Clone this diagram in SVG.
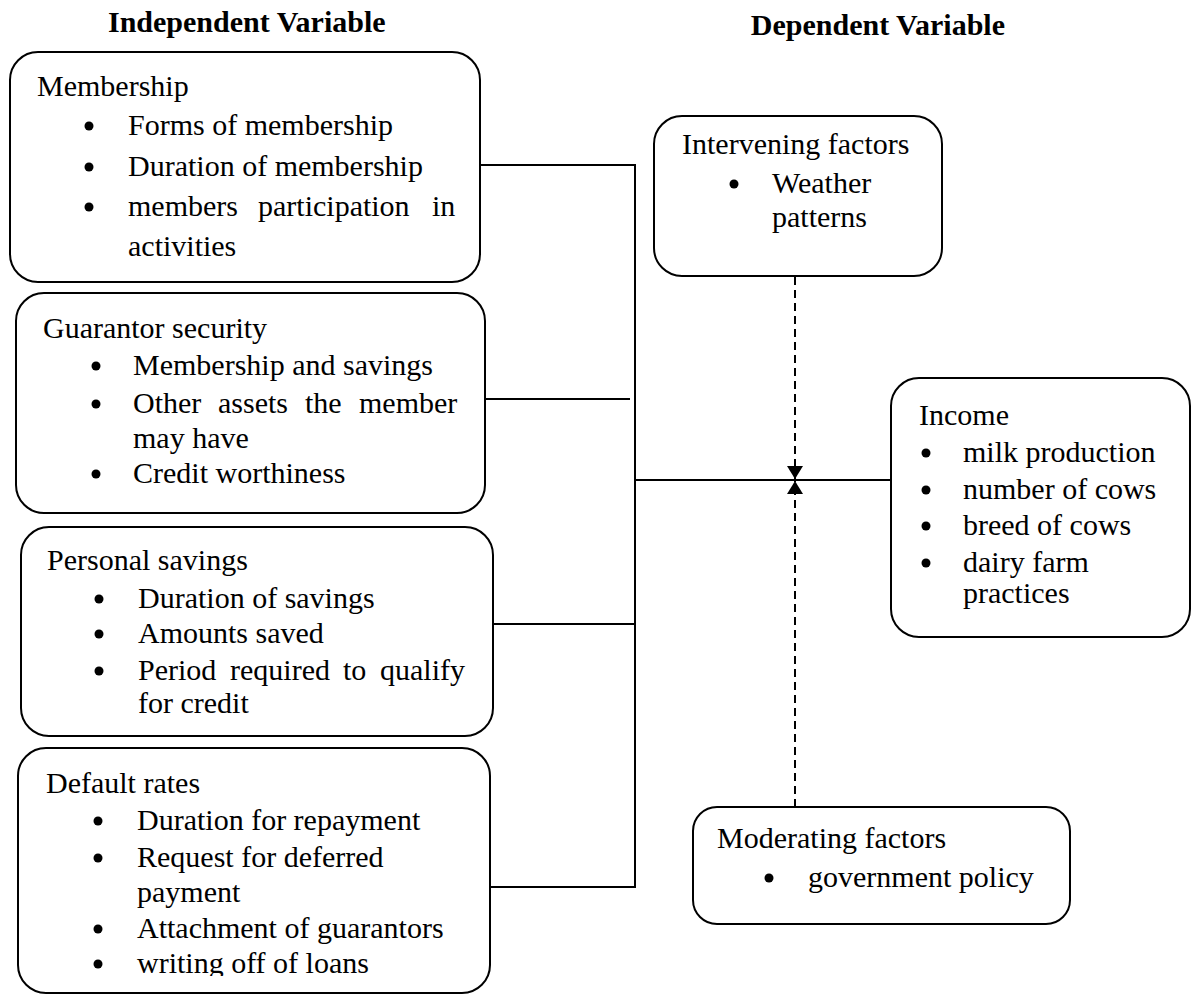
<svg xmlns="http://www.w3.org/2000/svg" width="1193" height="994" viewBox="0 0 1193 994">
<style>
.box{fill:#fff;stroke:#000;stroke-width:2}
.t{font-family:"Liberation Serif","Times New Roman",serif;font-size:30px;fill:#000}
.h{font-family:"Liberation Serif","Times New Roman",serif;font-size:30px;font-weight:bold;fill:#000}
.b{fill:#000}
.ln{stroke:#000;stroke-width:2;fill:none}
.dash{stroke:#000;stroke-width:2;fill:none;stroke-dasharray:8,5}
</style>
<defs>
<marker id="arr" viewBox="0 0 13 16" refX="13" refY="8" markerWidth="13" markerHeight="16" markerUnits="userSpaceOnUse" orient="auto"><path d="M0,0 L13,8 L0,16 Z" fill="#000"/></marker>
<clipPath id="clip4"><rect x="0" y="740" width="500" height="236"/></clipPath>
</defs>
<rect width="1193" height="994" fill="#fff"/>
<text class="h" x="108" y="32">Independent Variable</text>
<text class="h" x="1005" y="35" text-anchor="end">Dependent Variable</text>

<g id="connectors">
<line class="ln" x1="480" y1="165" x2="635" y2="165"/>
<line class="ln" x1="635" y1="164" x2="635" y2="888"/>
<line class="ln" x1="485" y1="399" x2="630" y2="399"/>
<line class="ln" x1="635" y1="480" x2="891" y2="480"/>
<line class="ln" x1="493" y1="624" x2="635" y2="624"/>
<line class="ln" x1="490" y1="887" x2="635" y2="887"/>
<line class="dash" x1="795" y1="277" x2="795" y2="479" marker-end="url(#arr)"/>
<line class="dash" x1="795" y1="807" x2="795" y2="481" marker-end="url(#arr)"/>
</g>

<g id="membership">
<rect class="box" x="10" y="52" width="470" height="230" rx="28"/>
<text class="t" x="37" y="96">Membership</text>
<circle class="b" cx="89" cy="126" r="4.5"/>
<text class="t" x="128" y="135">Forms of membership</text>
<circle class="b" cx="89" cy="167" r="4.5"/>
<text class="t" x="128" y="176">Duration of membership</text>
<circle class="b" cx="89" cy="207" r="4.5"/>
<text class="t" y="216"><tspan x="128">members</tspan><tspan x="258">participation</tspan><tspan x="432">in</tspan></text>
<text class="t" x="128" y="256">activities</text>
</g>

<g id="guarantor">
<rect class="box" x="16" y="293" width="469" height="220" rx="28"/>
<text class="t" x="43" y="338">Guarantor security</text>
<circle class="b" cx="96" cy="366" r="4.5"/>
<text class="t" x="133" y="375">Membership and savings</text>
<circle class="b" cx="96" cy="404" r="4.5"/>
<text class="t" y="413"><tspan x="133">Other</tspan><tspan x="218">assets</tspan><tspan x="305">the</tspan><tspan x="359">member</tspan></text>
<text class="t" x="133" y="448">may have</text>
<circle class="b" cx="96" cy="474" r="4.5"/>
<text class="t" x="133" y="483">Credit worthiness</text>
</g>

<g id="savings">
<rect class="box" x="21" y="527" width="472" height="209" rx="28"/>
<text class="t" x="47" y="570">Personal savings</text>
<circle class="b" cx="99" cy="599" r="4.5"/>
<text class="t" x="138" y="608">Duration of savings</text>
<circle class="b" cx="99" cy="634" r="4.5"/>
<text class="t" x="138" y="643">Amounts saved</text>
<circle class="b" cx="99" cy="671" r="4.5"/>
<text class="t" y="680"><tspan x="138">Period</tspan><tspan x="230">required</tspan><tspan x="343">to</tspan><tspan x="380">qualify</tspan></text>
<text class="t" x="138" y="713">for credit</text>
</g>

<g id="default">
<rect class="box" x="18" y="748" width="472" height="245" rx="28"/>
<text class="t" x="46" y="793">Default rates</text>
<circle class="b" cx="98" cy="821" r="4.5"/>
<text class="t" x="137" y="830">Duration for repayment</text>
<circle class="b" cx="98" cy="858" r="4.5"/>
<text class="t" x="137" y="867">Request for deferred</text>
<text class="t" x="137" y="902">payment</text>
<circle class="b" cx="98" cy="929" r="4.5"/>
<text class="t" x="137" y="938">Attachment of guarantors</text>
<circle class="b" cx="98" cy="964" r="4.5"/>
<text class="t" x="137" y="973" clip-path="url(#clip4)">writing off of loans</text>
</g>

<g id="intervening">
<rect class="box" x="654" y="116" width="288" height="160" rx="28"/>
<text class="t" x="682" y="154">Intervening factors</text>
<circle class="b" cx="734" cy="184" r="4.5"/>
<text class="t" x="772" y="193">Weather</text>
<text class="t" x="772" y="227">patterns</text>
</g>

<g id="income">
<rect class="box" x="891" y="378" width="299" height="259" rx="28"/>
<text class="t" x="919" y="425">Income</text>
<circle class="b" cx="926" cy="453" r="4.5"/>
<text class="t" x="963" y="462">milk production</text>
<circle class="b" cx="926" cy="490" r="4.5"/>
<text class="t" x="963" y="499">number of cows</text>
<circle class="b" cx="926" cy="526" r="4.5"/>
<text class="t" x="963" y="535">breed of cows</text>
<circle class="b" cx="926" cy="563" r="4.5"/>
<text class="t" x="963" y="572">dairy farm</text>
<text class="t" x="963" y="603">practices</text>
</g>

<g id="moderating">
<rect class="box" x="693" y="807" width="377" height="117" rx="24"/>
<text class="t" x="717" y="848">Moderating factors</text>
<circle class="b" cx="769" cy="878" r="4.5"/>
<text class="t" x="808" y="887">government policy</text>
</g>
</svg>
